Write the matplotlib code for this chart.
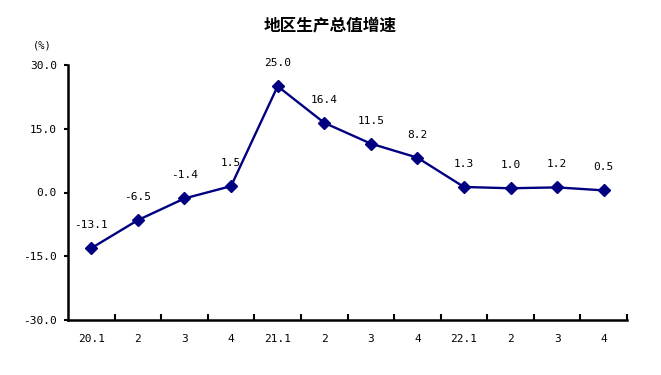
import matplotlib.pyplot as plt
import numpy as np

plt.rcParams['font.family'] = ['DejaVu Sans Mono', 'Noto Sans CJK SC']

# quarterly growth data
quarters = ['20.1', '2', '3', '4', '21.1', '2', '3', '4', '22.1', '2', '3', '4']
growth = [-13.1, -6.5, -1.4, 1.5, 25.0, 16.4, 11.5, 8.2, 1.3, 1.0, 1.2, 0.5]
y_ticks = [-30.0, -15.0, 0.0, 15.0, 30.0]

fig = plt.figure(figsize=(6.61, 3.75), dpi=100)
ax = fig.add_axes([68 / 661, 55 / 375, 559 / 661, 255 / 375])

x = np.arange(len(quarters))
ax.plot(x, growth, color='#000080', linewidth=1.7, marker='D', markersize=6.5,
        markerfacecolor='#000080', markeredgecolor='#000080')

for xi, v in zip(x, growth):
    ax.annotate(f'{v:.1f}', (xi, v), xytext=(0, 13), textcoords='offset points',
                ha='center', va='bottom', fontsize=8)

ax.set_xlim(-0.5, len(quarters) - 0.5)
ax.set_ylim(-30, 30)

ax.set_yticks(y_ticks)
ax.set_yticklabels([f'{t:.1f}' for t in y_ticks], fontsize=8)
ax.tick_params(axis='y', direction='out', length=3, width=1.5, pad=5)

ax.set_xticks(x)
ax.set_xticklabels(quarters, fontsize=8)
ax.set_xticks(np.arange(0.5, len(quarters), 1), minor=True)
ax.tick_params(axis='x', which='major', length=0, pad=10)
ax.tick_params(axis='x', which='minor', direction='in', length=4, width=1.5)

for side in ['top', 'right']:
    ax.spines[side].set_visible(False)
for side in ['left', 'bottom']:
    ax.spines[side].set_linewidth(1.8)

fig.text(0.5, 1 - 25 / 375, '地区生产总值增速', ha='center', va='center',
         fontsize=12, fontweight='bold', family='Noto Sans CJK SC')
fig.text(42 / 661, 1 - 45 / 375, '(%)', ha='center', va='center', fontsize=7.5)

fig.savefig('out.png', dpi=100)
